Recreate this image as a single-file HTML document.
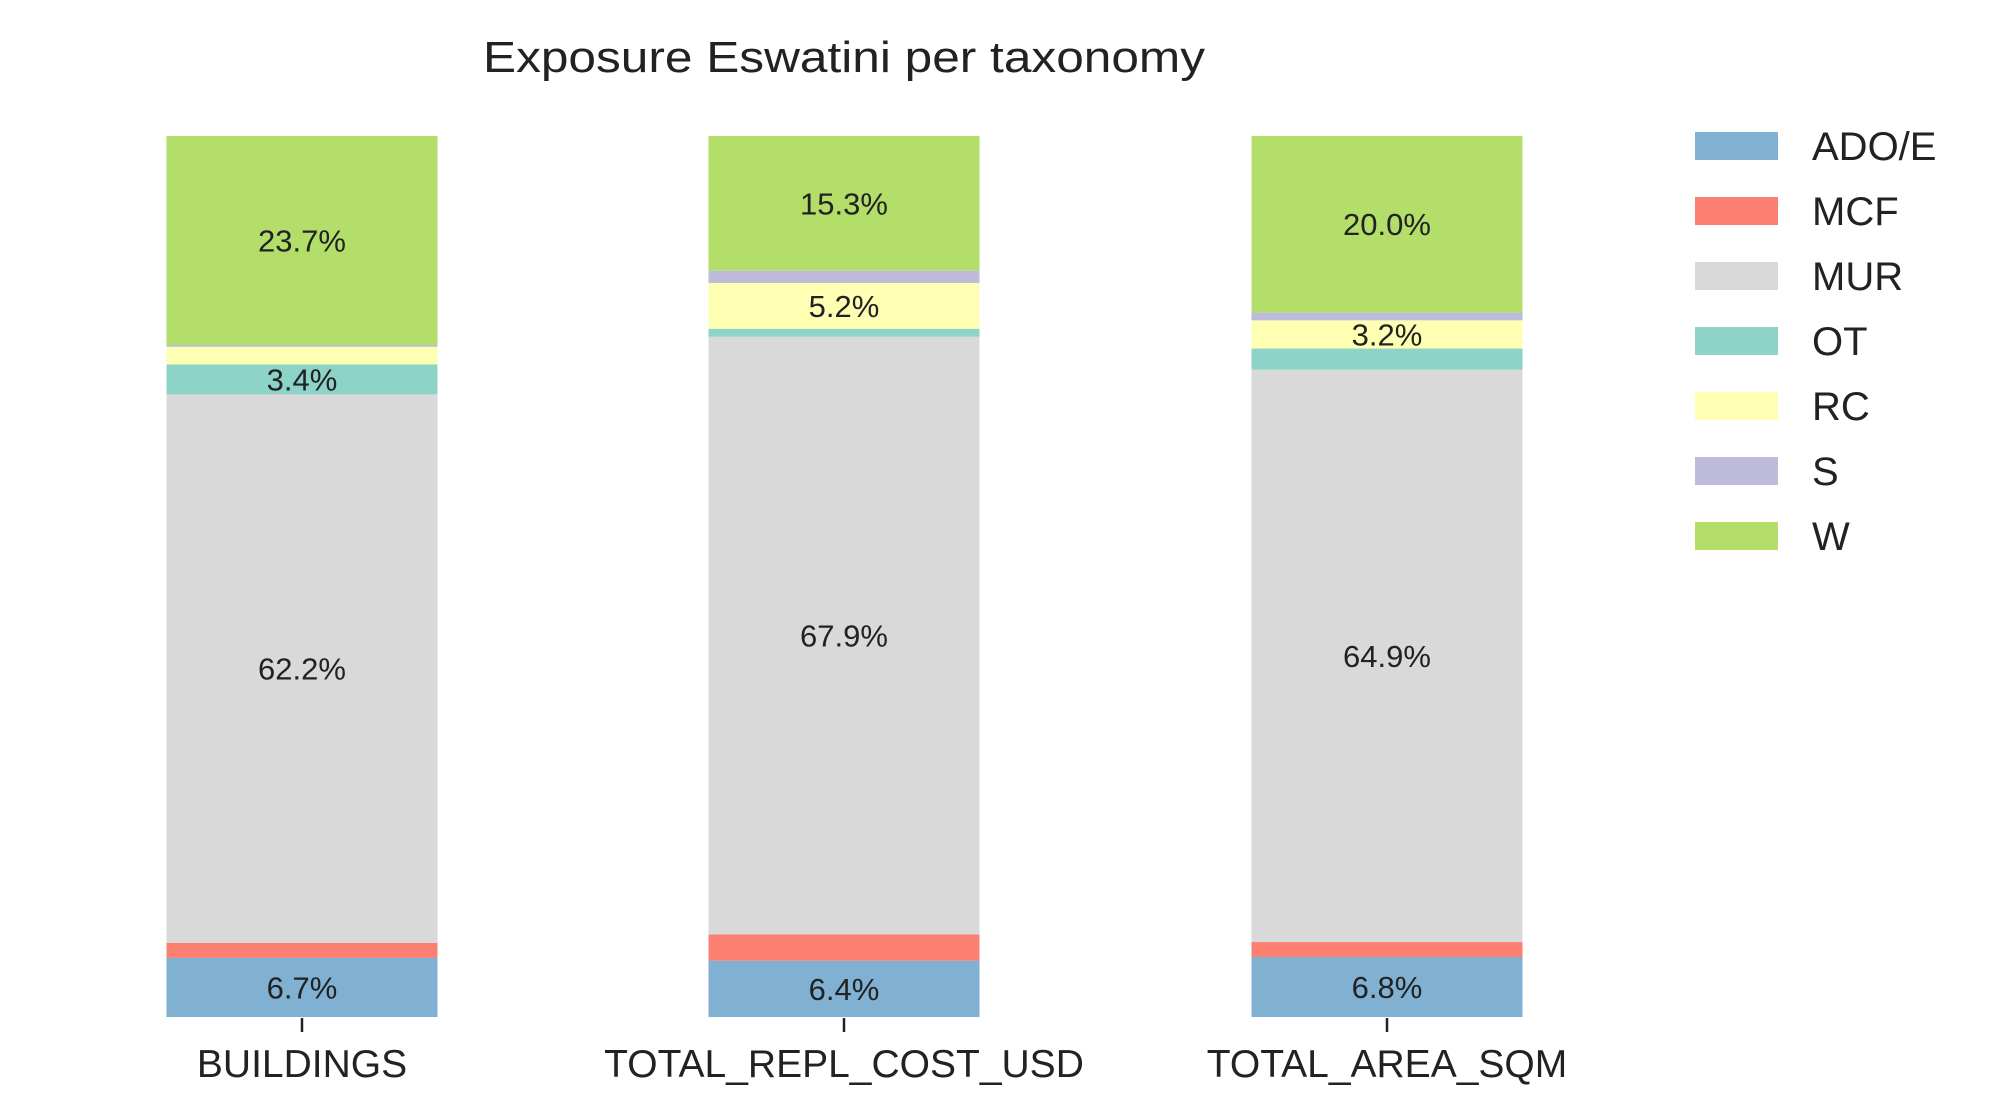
<!DOCTYPE html>
<html><head><meta charset="utf-8"><style>body{margin:0;background:#fff}svg{display:block}text{font-family:"Liberation Sans",sans-serif;fill:#222}</style></head>
<body>
<svg id="chart" width="1992" height="1119" viewBox="0 0 1992 1119" xmlns="http://www.w3.org/2000/svg">
<text x="844" y="72" font-size="44" text-anchor="middle" textLength="722" lengthAdjust="spacingAndGlyphs">Exposure Eswatini per taxonomy</text>
<g id="bars"></g>
<g id="legend"></g>
</svg>
<script>
const categories = ["BUILDINGS","TOTAL_REPL_COST_USD","TOTAL_AREA_SQM"];
const seriesNames = ["ADO/E","MCF","MUR","OT","RC","S","W"];
const colors = ["#80b1d3","#fb8072","#d9d9d9","#8dd3c7","#ffffb3","#bebada","#b3de69"];
const adoE = [6.7,6.4,6.8];
const mcf = [1.7,3.0,1.7];
const mur = [62.2,67.9,64.9];
const ot = [3.4,0.9,2.4];
const rc = [2.0,5.2,3.2];
const s = [0.2,1.4,0.9];
const w = [23.7,15.3,20.0];
const series = [adoE,mcf,mur,ot,rc,s,w];
const NS="http://www.w3.org/2000/svg";
const y0=1017, y1=136;
function yScale(v){return y0-(y0-y1)*v/100;}
const centers=[302,844,1387], barW=271;
function xScale(i){return centers[i];}
const g=document.getElementById('bars');
function mk(tag,attrs,parent){const e=document.createElementNS(NS,tag);for(const k in attrs)e.setAttribute(k,attrs[k]);parent.appendChild(e);return e;}
categories.forEach((c,i)=>{
  let totals=series.reduce((a,sr)=>a+sr[i],0);
  let cum=0;
  series.forEach((sr,j)=>{
    const v=sr[i]/totals*100;
    const top=yScale(cum+v), bot=yScale(cum);
    const r=mk('rect',{x:xScale(i)-barW/2,y:top,width:barW,height:bot-top,fill:colors[j]},g);
    
    
    if(sr[i]>3.05){
      const t=mk('text',{x:xScale(i),y:(top+bot)/2+11,'font-size':31,'text-anchor':'middle'},g);
      
      
      t.textContent=sr[i].toFixed(1)+'%';
    }
    cum+=v;
  });
  const tk=mk('line',{x1:xScale(i),x2:xScale(i),y1:1018,y2:1032,stroke:'#222','stroke-width':2.5},g);
  
  
  const tl=mk('text',{x:xScale(i),y:1077,'font-size':39,'text-anchor':'middle'},g);
  
  
  tl.textContent=c;
});
const lg=document.getElementById('legend');
seriesNames.forEach((n,j)=>{
  const y=132+j*65;
  const r=mk('rect',{x:1695,y:y,width:83,height:28,fill:colors[j]},lg);
  
  
  const t=mk('text',{x:1812,y:y+28,'font-size':40},lg);
  
  
  t.textContent=n;
});
</script>
</body></html>
